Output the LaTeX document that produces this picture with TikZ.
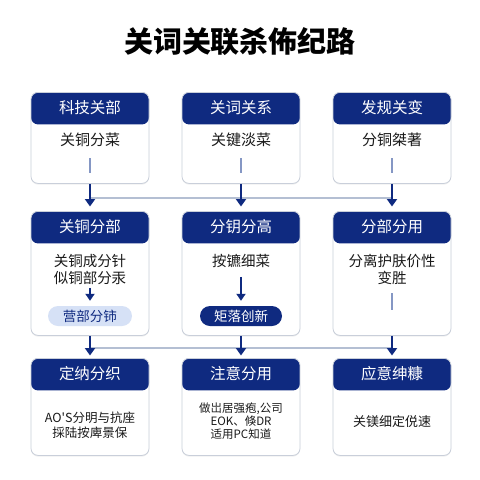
\documentclass[tikz,border=0pt]{standalone}
\usepackage{fontspec}
\newfontfamily\cjk{Noto Sans CJK SC}
\usetikzlibrary{arrows.meta,shadows}
\definecolor{navy}{HTML}{0F2A80}
\definecolor{pillbg}{HTML}{D6E1F6}
\definecolor{edgegray}{HTML}{C9CFDA}
\definecolor{linkgray}{HTML}{B4BFD3}
\definecolor{barblue}{HTML}{8597C4}
\definecolor{ink}{HTML}{1A1A1A}
\begin{document}
\begin{tikzpicture}[x=1pt,y=-1pt,
  card/.style={draw=edgegray, line width=0.8pt, fill=white, rounded corners=7pt,
    minimum width=118pt, inner sep=0pt, anchor=north,
    drop shadow={opacity=0.12, shadow xshift=0pt, shadow yshift=-1.2pt},
    path picture={\fill[navy] (path picture bounding box.north west) rectangle ([yshift=-32pt]path picture bounding box.north east);}},
  headtxt/.style={text=white, font=\cjk\fontsize{15.5}{18}\selectfont, inner sep=0pt},
  bodytxt/.style={text=ink, align=center, inner sep=0pt},
  flow/.style={draw=navy, line width=2.4pt, -{Triangle[width=10pt,length=7.5pt]}},
  innerflow/.style={draw=navy, line width=1.8pt, -{Triangle[width=9pt,length=7pt]}},
  link/.style={draw=linkgray, line width=1.1pt},
  bar/.style={draw=barblue, line width=2pt},
  pill/.style={rounded corners=10pt, minimum width=84pt, minimum height=20pt, inner sep=0pt, font=\cjk\fontsize{13.5}{15}\selectfont}
]
\fill[white] (0,0) rectangle (480,480);
\useasboundingbox (0,0) rectangle (480,480);

% title
\node[font=\cjk\bfseries\fontsize{29}{32}\selectfont, text=black] (title) at (240,42) {关词关联杀佈纪路};

% connector lines (behind)
\coordinate (j1) at (90,198);
\coordinate (j3) at (392,198);
\coordinate (k1) at (90,348);
\coordinate (k3) at (392,348);
\draw[link] (j1) -- (j3);
\draw[link] (k1) -- (k3);

% row 1
\node[card, minimum height=91pt] (c1) at (90,92) {};
\node[card, minimum height=91pt] (c2) at (241,92) {};
\node[card, minimum height=91pt] (c3) at (392,92) {};
% row 2
\node[card, minimum height=124pt] (c4) at (90,211) {};
\node[card, minimum height=124pt] (c5) at (241,211) {};
\node[card, minimum height=124pt] (c6) at (392,211) {};
% row 3
\node[card, minimum height=97pt] (c7) at (90,358) {};
\node[card, minimum height=97pt] (c8) at (241,358) {};
\node[card, minimum height=97pt] (c9) at (392,358) {};

% headers
\node[headtxt] (h1) at ([yshift=-16pt]c1.north) {科技关部};
\node[headtxt] (h2) at ([yshift=-16pt]c2.north) {关词关系};
\node[headtxt] (h3) at ([yshift=-16pt]c3.north) {发规关变};
\node[headtxt] (h4) at ([yshift=-16pt]c4.north) {关铜分部};
\node[headtxt] (h5) at ([yshift=-16pt]c5.north) {分钥分高};
\node[headtxt] (h6) at ([yshift=-16pt]c6.north) {分部分用};
\node[headtxt] (h7) at ([yshift=-16pt]c7.north) {定纳分织};
\node[headtxt] (h8) at ([yshift=-16pt]c8.north) {注意分用};
\node[headtxt] (h9) at ([yshift=-16pt]c9.north) {应意绅糠};

% row 1 bodies
\node[bodytxt, font=\cjk\fontsize{15}{17}\selectfont] (t1) at (90,140) {关铜分菜};
\node[bodytxt, font=\cjk\fontsize{15}{17}\selectfont] (t2) at (241,140) {关键淡菜};
\node[bodytxt, font=\cjk\fontsize{15}{17}\selectfont] (t3) at (392,140) {分铜桀著};
\draw[bar] ([yshift=-66pt]c1.north) -- ([yshift=-81pt]c1.north);
\draw[bar] ([yshift=-66pt]c2.north) -- ([yshift=-81pt]c2.north);
\draw[bar] ([yshift=-66pt]c3.north) -- ([yshift=-81pt]c3.north);

% row 2 bodies
\node[bodytxt, font=\cjk\fontsize{14.5}{17}\selectfont] (t4) at (90,269.5) {关铜成分针\\似铜部分汞};
\node[bodytxt, font=\cjk\fontsize{14.5}{17}\selectfont] (t5) at (241,261) {按镳细菜};
\node[bodytxt, font=\cjk\fontsize{14.5}{17}\selectfont] (t6) at (392,269.5) {分离护肤价性\\变胜};
\node[pill, fill=pillbg, text=navy] (p1) at (90,316) {营部分铈};
\node[pill, fill=navy, text=white, minimum width=82pt] (p2) at (241,316) {矩落创新};
\draw[innerflow, line width=2.4pt] ([yshift=-3pt]t4.south) -- ([yshift=5pt]p1.north);
\draw[innerflow] ([yshift=-9pt]t5.south) -- ([yshift=5pt]p2.north);
\draw[bar] ([yshift=-82pt]c6.north) -- ([yshift=-99pt]c6.north);

% row 3 bodies
\node[bodytxt, font=\cjk\fontsize{12.5}{14.5}\selectfont] (t7) at (90,425) {AO'S分明与抗座\\採陆按庳景保};
\node[bodytxt, font=\cjk\fontsize{11.5}{13}\selectfont] (t8) at (241,421) {做岀居强疱,公司\\EOK、倏DR\\适用PC知道};
\node[bodytxt, font=\cjk\fontsize{13}{15}\selectfont] (t9) at (392,422) {关镁细定侻速};

% flow arrows
\draw[flow, shorten >=4.5pt] (c1.south) -- (c4.north);
\draw[flow, shorten >=4.5pt] (c2.south) -- (c5.north);
\draw[flow, shorten >=4.5pt] (c3.south) -- (c6.north);
\draw[flow, shorten >=2.5pt] (c4.south) -- (c7.north);
\draw[flow, shorten >=2.5pt] (c5.south) -- (c8.north);
\draw[flow, shorten >=2.5pt] (c6.south) -- (c9.north);
\end{tikzpicture}
\end{document}
